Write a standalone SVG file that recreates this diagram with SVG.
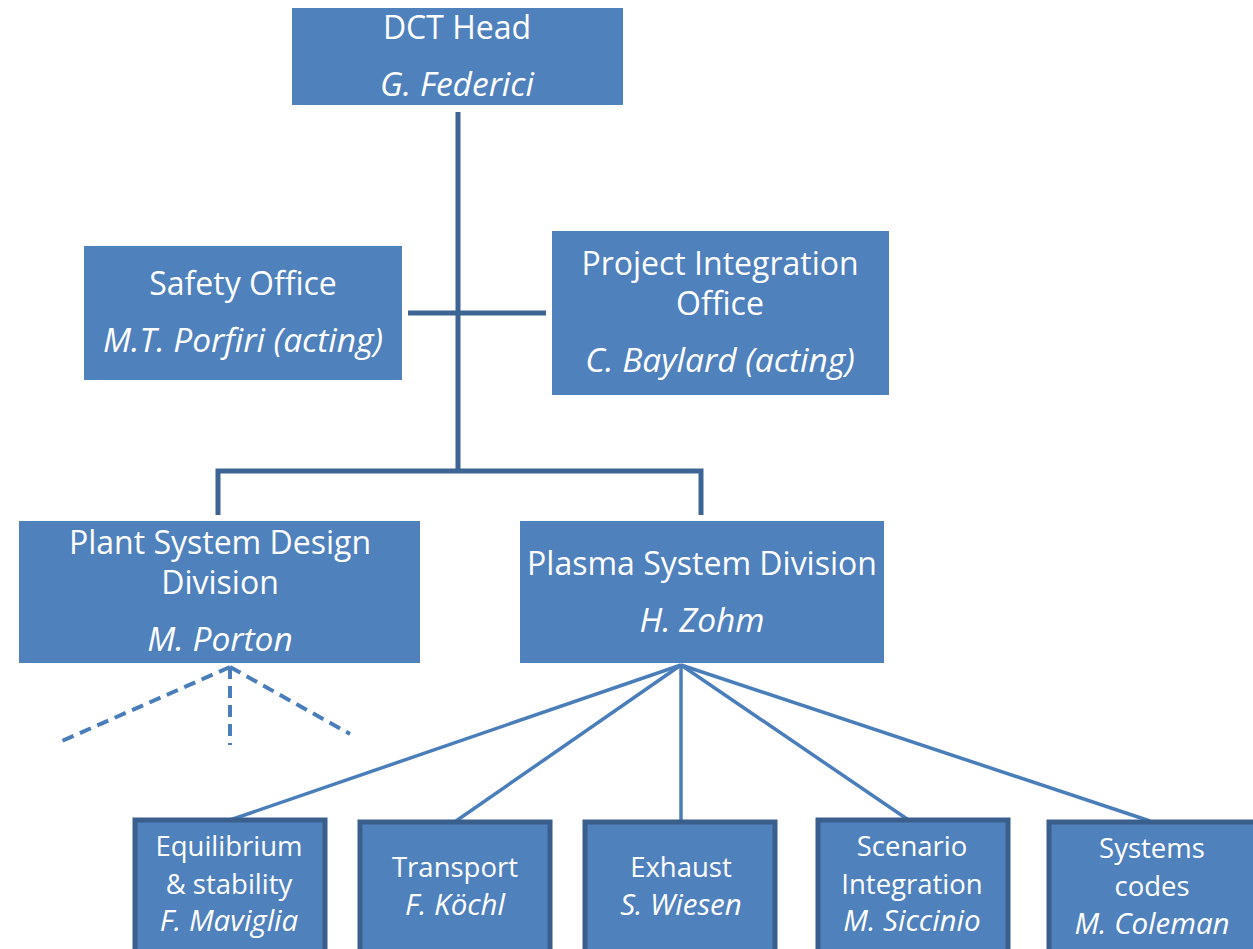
<svg xmlns="http://www.w3.org/2000/svg" width="1253" height="949" viewBox="0 0 1253 949">
<style>
.box{fill:#4F81BD;}
.bbox{fill:#4F81BD;stroke:#3A5F8D;stroke-width:5;}
.t{font-family:"Open Sans",Lato,sans-serif;fill:#fff;text-anchor:middle;font-size:32px;}
.i{font-style:italic;font-size:33.5px;}
.s{font-size:27.5px;}
.si{font-style:italic;font-size:29.5px;}
.c{stroke:#3C6494;stroke-width:5;fill:none;}
.d{stroke:#4A7EBB;stroke-width:4;fill:none;stroke-dasharray:12,7;}
.l{stroke:#4A7EBB;stroke-width:3.5;fill:none;}
</style>
<rect width="1253" height="949" fill="#fff"/>
<g id="connectors">
<path class="c" d="M458 112 V469"/>
<path class="c" d="M408 313 H546"/>
<path class="c" d="M218 515 V471 H701 V515"/>
<path class="d" d="M230 667 L62 741"/>
<path class="d" d="M230 667 V745"/>
<path class="d" d="M230 667 L350 734"/>
<path class="l" d="M681 665 L230 820"/>
<path class="l" d="M681 665 L456 821"/>
<path class="l" d="M681 665 V821"/>
<path class="l" d="M681 665 L910 821"/>
<path class="l" d="M681 665 L1150 821"/>
</g>
<g id="dct-head">
<rect class="box" x="292" y="8" width="331" height="97"/>
<text class="t" x="457" y="39">DCT Head</text>
<text class="t i" x="457" y="96">G. Federici</text>
</g>
<g id="safety-office">
<rect class="box" x="84" y="246" width="318" height="134"/>
<text class="t" x="243" y="295">Safety Office</text>
<text class="t i" x="243" y="352">M.T. Porfiri (acting)</text>
</g>
<g id="project-integration-office">
<rect class="box" x="552" y="231" width="337" height="164"/>
<text class="t" x="720" y="275">Project Integration</text>
<text class="t" x="720" y="315">Office</text>
<text class="t i" x="720" y="372">C. Baylard (acting)</text>
</g>
<g id="plant-system-design">
<rect class="box" x="19" y="521" width="401" height="142"/>
<text class="t" x="220" y="554">Plant System Design</text>
<text class="t" x="220" y="594">Division</text>
<text class="t i" x="220" y="651">M. Porton</text>
</g>
<g id="plasma-system">
<rect class="box" x="520" y="521" width="364" height="142"/>
<text class="t" x="702" y="575">Plasma System Division</text>
<text class="t i" x="702" y="632">H. Zohm</text>
</g>
<g id="equilibrium">
<rect class="bbox" x="135" y="820" width="190" height="135"/>
<text class="t s" x="229" y="856">Equilibrium</text>
<text class="t s" x="229" y="894">&amp; stability</text>
<text class="t si" x="229" y="931">F. Maviglia</text>
</g>
<g id="transport">
<rect class="bbox" x="360" y="822" width="190" height="135"/>
<text class="t s" x="455" y="877">Transport</text>
<text class="t si" x="455" y="915">F. Köchl</text>
</g>
<g id="exhaust">
<rect class="bbox" x="585" y="822" width="190" height="135"/>
<text class="t s" x="681" y="877">Exhaust</text>
<text class="t si" x="681" y="915">S. Wiesen</text>
</g>
<g id="scenario">
<rect class="bbox" x="818" y="820" width="190" height="135"/>
<text class="t s" x="912" y="856">Scenario</text>
<text class="t s" x="912" y="894">Integration</text>
<text class="t si" x="912" y="931">M. Siccinio</text>
</g>
<g id="systems-codes">
<rect class="bbox" x="1049" y="822" width="210" height="135"/>
<text class="t s" x="1152" y="858">Systems</text>
<text class="t s" x="1152" y="896">codes</text>
<text class="t si" x="1152" y="934">M. Coleman</text>
</g>
</svg>
